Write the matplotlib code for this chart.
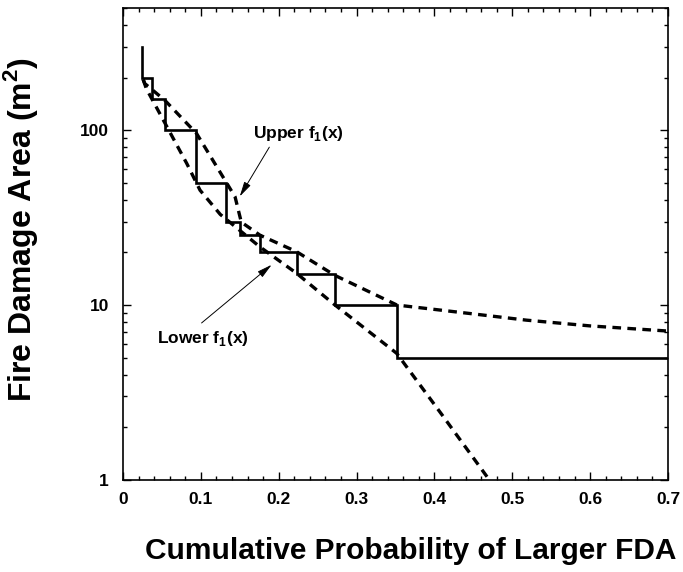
import matplotlib.pyplot as plt
from matplotlib.ticker import LogLocator, NullFormatter, FixedLocator

plt.rcParams["font.family"] = ["Liberation Sans", "DejaVu Sans"]
plt.rcParams["font.weight"] = "bold"
plt.rcParams["mathtext.fontset"] = "custom"
plt.rcParams["mathtext.rm"] = "Liberation Sans:bold"
plt.rcParams["mathtext.bf"] = "Liberation Sans:bold"

# empirical step function (cumulative probability, fire damage area)
step_x = [0.0248, 0.0376, 0.054, 0.094, 0.133, 0.150, 0.176, 0.2235, 0.272, 0.352, 0.70]
step_y = [300, 200, 150, 100, 50, 30, 25, 20, 15, 10, 5]

# upper bound curve
upper_x = [0.026, 0.028, 0.054, 0.0946, 0.144, 0.152, 0.176, 0.223, 0.272, 0.352, 0.45, 0.518, 0.60, 0.70]
upper_y = [195, 185, 148, 95.7, 41.6, 29.8, 25.1, 20.2, 14.8, 10.0, 8.9, 8.2, 7.6, 7.1]

# lower bound curve
lower_x = [0.026, 0.030, 0.052, 0.082, 0.099, 0.125, 0.176, 0.223, 0.270, 0.3515, 0.41, 0.472]
lower_y = [195, 173, 114, 64.5, 45.4, 33.0, 21.5, 15.2, 10.2, 5.3, 2.35, 0.98]

x_ticks = [0, 0.1, 0.2, 0.3, 0.4, 0.5, 0.6, 0.7]
x_labels = ["0", "0.1", "0.2", "0.3", "0.4", "0.5", "0.6", "0.7"]
y_ticks = [1, 10, 100]
y_labels = ["1", "10", "100"]

fig = plt.figure(figsize=(6.83, 5.72), dpi=100)
ax = fig.add_axes([0.180, 0.161, 0.798, 0.825])

# step: vertical drop at each x then horizontal run
sx, sy = [step_x[0]], [step_y[0]]
for i in range(len(step_y) - 1):
    sx += [step_x[i], step_x[i + 1]]
    sy += [step_y[i + 1], step_y[i + 1]]
ax.plot(sx, sy, color="black", lw=1.9, solid_joinstyle="miter")

ax.plot(upper_x, upper_y, color="black", lw=2.4, linestyle=(0, (2.6, 1.9)))
ax.plot(lower_x, lower_y, color="black", lw=2.4, linestyle=(0, (2.6, 1.9)))

ax.set_yscale("log")
ax.set_xlim(0, 0.7)
ax.set_ylim(1, 500)

ax.xaxis.set_major_locator(FixedLocator(x_ticks))
ax.xaxis.set_minor_locator(FixedLocator([i * 0.02 for i in range(36)]))
ax.set_xticklabels(x_labels)
ax.yaxis.set_major_locator(FixedLocator(y_ticks))
ax.yaxis.set_minor_locator(LogLocator(base=10, subs=range(2, 10)))
ax.yaxis.set_minor_formatter(NullFormatter())
ax.set_yticklabels(y_labels)

ax.tick_params(which="both", direction="in", top=True, right=True, labelsize=12.5, width=1.0)
ax.tick_params(which="major", length=6, pad=9)
ax.tick_params(which="minor", length=3)
ax.tick_params(axis="y", which="major", pad=10)
for s in ax.spines.values():
    s.set_linewidth(1.2)

ax.set_xlabel("Cumulative Probability of Larger FDA", fontsize=21.5, fontweight="bold")
ax.set_ylabel(r"Fire Damage Area (m$^{2}$)", fontsize=23, fontweight="bold")
ax.xaxis.set_label_coords(0.528, -0.122)
ax.yaxis.set_label_coords(-0.152, 0.53)

arrow = dict(arrowstyle="-|>,head_length=0.9,head_width=0.22", color="black", lw=0.7, shrinkA=0, shrinkB=0)
ax.annotate("", xy=(0.150, 41.8), xytext=(0.188, 80), arrowprops=arrow)
ax.annotate("", xy=(0.191, 17.0), xytext=(0.101, 7.9), arrowprops=arrow)
ax.text(0.167, 96, r"Upper f$_{1}$(x)", fontsize=12.5, fontweight="bold", va="center", ha="left")
ax.text(0.0437, 6.4, r"Lower f$_{1}$(x)", fontsize=12.5, fontweight="bold", va="center", ha="left")

plt.savefig("out.png", dpi=100)
